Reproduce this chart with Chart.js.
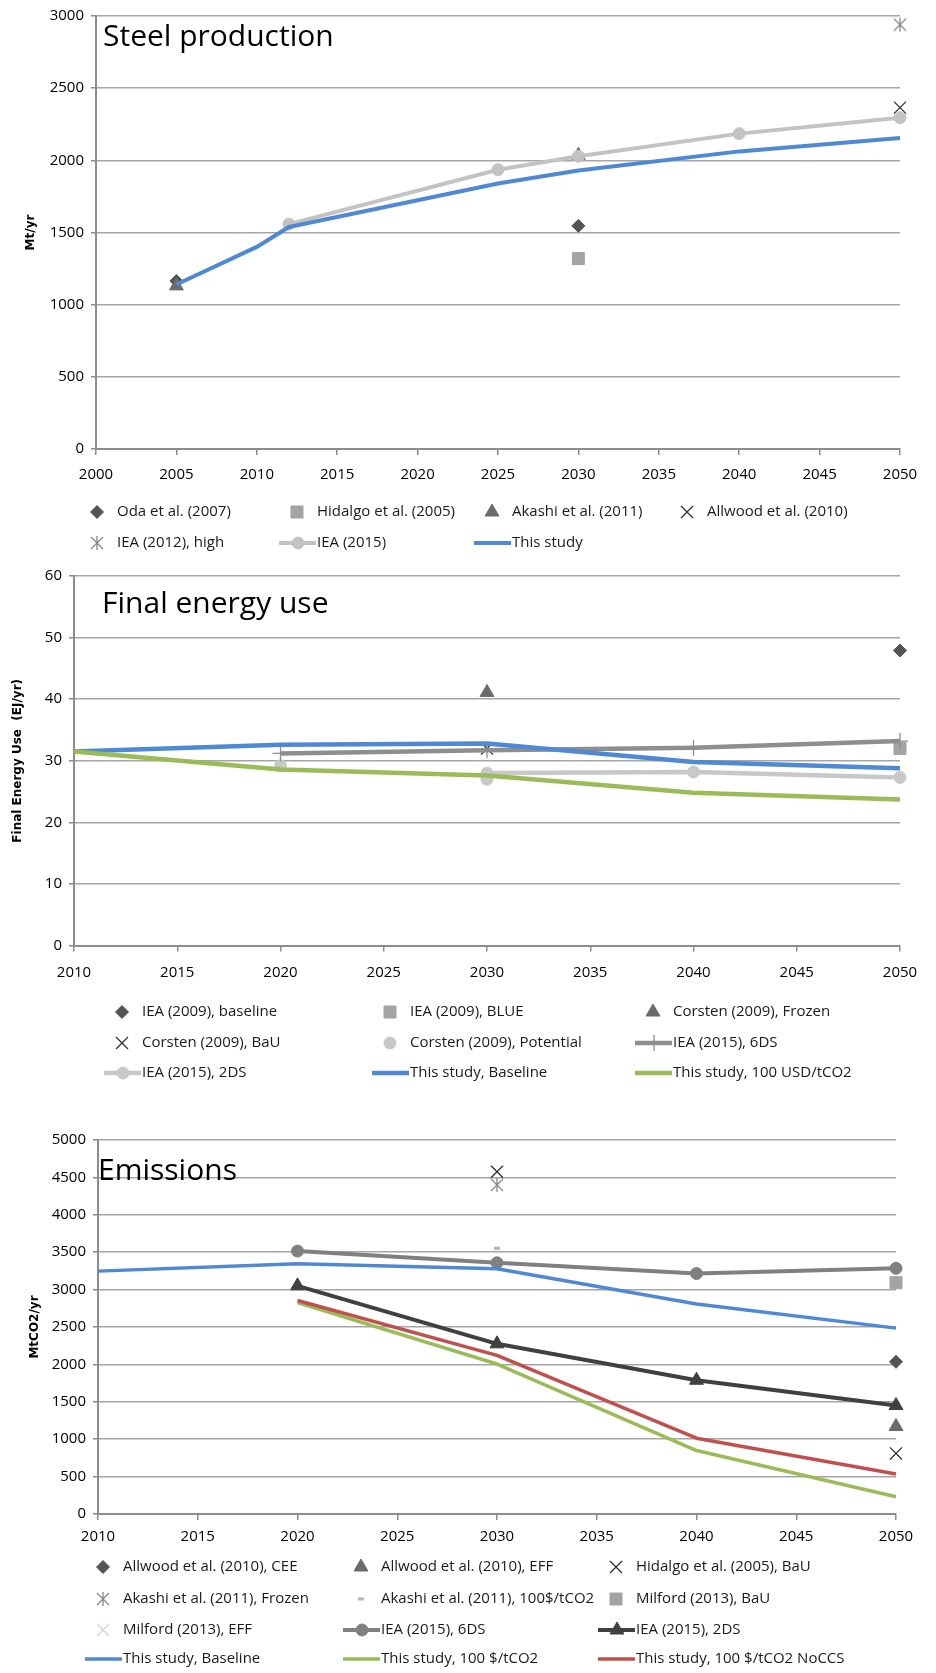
<!DOCTYPE html>
<html>
<head>
<meta charset="utf-8">
<style>
  html, body { margin: 0; padding: 0; background: #fff; }
  body { width: 936px; height: 1673px; position: relative; overflow: hidden; }
  canvas { position: absolute; left: 0; }
</style>
<script src="https://cdn.jsdelivr.net/npm/chart.js@4.4.1/dist/chart.umd.min.js"></script>
</head>
<body>
<canvas id="steel" width="936" height="565" style="top:0px"></canvas>
<canvas id="energy" width="936" height="545" style="top:560px"></canvas>
<canvas id="emissions" width="936" height="568" style="top:1105px"></canvas>
<script>
// ---- Steel production (Mt/yr) ----
const steelYears = [2005, 2010, 2012, 2025, 2030, 2040, 2050];
const steelOda = [1164, null, null, null, 1546, null, null];
const steelHidalgo = [null, null, null, null, 1319, null, null];
const steelAkashi = [1130, null, null, null, 2035, null, null];
const steelAllwood = [null, null, null, null, null, null, 2365];
const steelIea2012 = [null, null, null, null, null, null, 2940];
const steelIea2015 = [null, null, 1558, 1935, 2028, 2185, 2295];
const steelThisStudy = [1140, 1400, 1538, 1840, 1930, 2062, 2155];
const steelXTicks = [2000, 2005, 2010, 2015, 2020, 2025, 2030, 2035, 2040, 2045, 2050];
const steelYTicks = [0, 500, 1000, 1500, 2000, 2500, 3000];

// ---- Final energy use (EJ/yr) ----
const energyYears = [2010, 2020, 2030, 2040, 2050];
const energyIeaBaseline = [null, null, null, null, 47.9];
const energyIeaBlue = [null, null, null, null, 32.0];
const energyCorstenFrozen = [null, null, 41.1, null, null];
const energyCorstenBaU = [null, null, 32.0, null, null];
const energyCorstenPotential = [null, 29.2, 27.0, null, null];
const energyIea6DS = [null, 31.2, 31.7, 32.1, 33.2];
const energyIea2DS = [null, null, 28.0, 28.2, 27.3];
const energyBaseline = [31.5, 32.6, 32.8, 29.8, 28.8];
const energy100 = [31.5, 28.6, 27.6, 24.8, 23.7];
const energyXTicks = [2010, 2015, 2020, 2025, 2030, 2035, 2040, 2045, 2050];
const energyYTicks = [0, 10, 20, 30, 40, 50, 60];

// ---- Emissions (MtCO2/yr) ----
const emisYears = [2010, 2020, 2030, 2040, 2050];
const emisAllwoodCEE = [null, null, null, null, 2035];
const emisAllwoodEFF = [null, null, null, null, 1170];
const emisHidalgoBaU = [null, null, 4576, null, 810];
const emisAkashiFrozen = [null, null, 4400, null, null];
const emisAkashi100 = [null, null, 3552, null, null];
const emisMilfordBaU = [null, null, null, null, 3092];
const emisMilfordEFF = [null, null, null, null, null];
const emisIea6DS = [null, 3515, 3358, 3214, 3285];
const emisIea2DS = [null, 3050, 2275, 1788, 1450];
const emisBaseline = [3247, 3345, 3280, 2808, 2485];
const emis100 = [null, 2825, 2005, 848, 230];
const emis100NoCCS = [null, 2855, 2120, 1013, 535];
const emisXTicks = [2010, 2015, 2020, 2025, 2030, 2035, 2040, 2045, 2050];
const emisYTicks = [0, 500, 1000, 1500, 2000, 2500, 3000, 3500, 4000, 4500, 5000];

Chart.defaults.font.family = '"Open Sans", sans-serif';
Chart.defaults.font.size = 15;
Chart.defaults.color = '#000';

const GRID = '#a6a6a6';
const AXIS = '#8c8c8c';

function pts(years, vals) {
  return years.map((x, i) => ({ x: x, y: vals[i] })).filter(p => p.y !== null);
}

// excel style asterisk: an X with a vertical bar
function asterisk(color) {
  const c = document.createElement('canvas');
  c.width = 18; c.height = 18;
  const g = c.getContext('2d');
  g.strokeStyle = color;
  g.lineWidth = 1.3;
  g.beginPath();
  g.moveTo(3, 3); g.lineTo(15, 15);
  g.moveTo(15, 3); g.lineTo(3, 15);
  g.moveTo(9, 2); g.lineTo(9, 16);
  g.stroke();
  return c;
}

function markerSet(label, years, vals, st) {
  return {
    label: label, data: pts(years, vals), showLine: false, clip: false,
    pointStyle: st.style, pointRadius: st.r,
    pointBackgroundColor: st.fill || 'rgba(0,0,0,0)',
    pointBorderColor: st.stroke || st.fill,
    pointBorderWidth: st.bw !== undefined ? st.bw : 1,
    borderColor: st.stroke || st.fill, backgroundColor: st.fill || 'rgba(0,0,0,0)'
  };
}

function lineSet(label, years, vals, color, width, st) {
  st = st || {};
  return {
    label: label, data: pts(years, vals), showLine: true, clip: false,
    borderColor: color, borderWidth: width, backgroundColor: color,
    borderJoinStyle: 'round', tension: 0,
    pointStyle: st.style || 'circle', pointRadius: st.r || 0,
    pointBackgroundColor: st.fill || color, pointBorderColor: st.stroke || color,
    pointBorderWidth: st.bw !== undefined ? st.bw : 1
  };
}

const gridLegend = {
  id: 'gridLegend',
  afterDraw(chart, args, opts) {
    const ctx = chart.ctx;
    ctx.save();
    ctx.font = '15px "Open Sans", sans-serif';
    ctx.textBaseline = 'middle';
    chart.data.datasets.forEach((ds, i) => {
      const n = opts.cols.length;
      const tx = opts.cols[i % n];
      const ty = opts.rows[Math.floor(i / n)];
      let mx = tx - 20;
      if (ds.showLine) {
        ctx.strokeStyle = ds.borderColor;
        ctx.lineWidth = ds.borderWidth;
        ctx.beginPath();
        ctx.moveTo(tx - 38, ty);
        ctx.lineTo(tx - 1, ty);
        ctx.stroke();
        mx = tx - 19;
      }
      if (ds.pointRadius > 0) {
        ctx.fillStyle = ds.pointBackgroundColor;
        ctx.strokeStyle = ds.pointBorderColor;
        ctx.lineWidth = ds.pointBorderWidth;
        Chart.helpers.drawPoint(ctx, {
          pointStyle: ds.pointStyle, rotation: 0,
          radius: ds.pointRadius, borderWidth: ds.pointBorderWidth
        }, mx, ty);
      }
      ctx.fillStyle = '#1a1a1a';
      ctx.fillText(ds.label, tx, ty);
    });
    ctx.restore();
  }
};

const panelTitle = {
  id: 'panelTitle',
  afterDraw(chart, args, opts) {
    const ctx = chart.ctx;
    ctx.save();
    ctx.font = '30px "Open Sans", sans-serif';
    ctx.fillStyle = '#000';
    ctx.textBaseline = 'alphabetic';
    ctx.fillText(opts.text, opts.x, opts.y);
    ctx.restore();
  }
};

function makeChart(id, cfg) {
  const canvas = document.getElementById(id);
  const H = canvas.height;
  const xh = 40;
  cfg.datasets.forEach((ds, i) => { ds.order = -i; });
  return new Chart(canvas, {
    type: 'line',
    data: { datasets: cfg.datasets },
    options: {
      responsive: false,
      animation: false,
      events: [],
      layout: { padding: { left: 0, top: cfg.top, right: 936 - cfg.right, bottom: H - cfg.bottom - xh } },
      scales: {
        x: {
          type: 'linear',
          min: cfg.xTicks[0], max: cfg.xTicks[cfg.xTicks.length - 1],
          afterBuildTicks: s => { s.ticks = cfg.xTicks.map(v => ({ value: v })); },
          afterFit: s => { s.height = xh; },
          ticks: { callback: v => String(v), padding: cfg.xPad, maxRotation: 0, autoSkip: false },
          grid: { drawOnChartArea: false, drawTicks: true, tickLength: 6, color: AXIS, lineWidth: 1.5 },
          border: { display: true, color: AXIS, width: 2 }
        },
        y: {
          min: cfg.yTicks[0], max: cfg.yTicks[cfg.yTicks.length - 1],
          afterBuildTicks: s => { s.ticks = cfg.yTicks.map(v => ({ value: v })); },
          afterFit: s => { s.width = cfg.left; },
          ticks: { callback: v => String(v), padding: cfg.yPad, autoSkip: false },
          grid: { color: GRID, lineWidth: 1.5, tickLength: 5, tickColor: AXIS },
          border: { display: true, color: AXIS, width: 2 },
          title: {
            display: true, text: cfg.yTitle, color: '#000',
            font: { family: '"DejaVu Sans", sans-serif', weight: 'bold', size: 12 },
            padding: { top: cfg.yTitleX - 7.2, bottom: 0 }
          }
        }
      },
      plugins: {
        legend: { display: false },
        tooltip: { enabled: false },
        gridLegend: { cols: cfg.legendCols, rows: cfg.legendRows },
        panelTitle: { text: cfg.title, x: cfg.titleX, y: cfg.titleY }
      }
    },
    plugins: [gridLegend, panelTitle]
  });
}

const DIAMOND = { style: 'rectRot', r: 6.5, fill: '#545454' };
const SQUARE = { style: 'rect', r: 8.5, fill: '#a3a3a3' };
const TRIANGLE = { style: 'triangle', r: 8, fill: '#6b6b6b' };
const XMARK = { style: 'crossRot', r: 8.5, stroke: '#333333', bw: 1.3 };
const STAR = { style: asterisk('#888888'), r: 8, stroke: '#888888', bw: 1.3 };

makeChart('steel', {
  left: 96, right: 900, top: 15.5, bottom: 449,
  xTicks: steelXTicks, yTicks: steelYTicks, xPad: 11, yPad: 7,
  yTitle: 'Mt/yr', yTitleX: 31,
  title: 'Steel production', titleX: 103, titleY: 46,
  legendCols: [117, 317, 512, 707], legendRows: [512, 543],
  datasets: [
    markerSet('Oda et al. (2007)', steelYears, steelOda, DIAMOND),
    markerSet('Hidalgo et al. (2005)', steelYears, steelHidalgo, SQUARE),
    markerSet('Akashi et al. (2011)', steelYears, steelAkashi, TRIANGLE),
    markerSet('Allwood et al. (2010)', steelYears, steelAllwood, XMARK),
    markerSet('IEA (2012), high', steelYears, steelIea2012, STAR),
    lineSet('IEA (2015)', steelYears, steelIea2015, '#c3c3c3', 4, { style: 'circle', r: 6 }),
    lineSet('This study', steelYears, steelThisStudy, '#4f88d3', 4)
  ]
});

makeChart('energy', {
  left: 74, right: 900, top: 13, bottom: 385.6,
  xTicks: energyXTicks, yTicks: energyYTicks, xPad: 12, yPad: 7,
  yTitle: 'Final Energy Use  (EJ/yr)', yTitleX: 18,
  title: 'Final energy use', titleX: 102, titleY: 52.5,
  legendCols: [142, 410, 673], legendRows: [452, 483, 513],
  datasets: [
    markerSet('IEA (2009), baseline', energyYears, energyIeaBaseline, DIAMOND),
    markerSet('IEA (2009), BLUE', energyYears, energyIeaBlue, SQUARE),
    markerSet('Corsten (2009), Frozen', energyYears, energyCorstenFrozen, TRIANGLE),
    markerSet('Corsten (2009), BaU', energyYears, energyCorstenBaU, XMARK),
    markerSet('Corsten (2009), Potential', energyYears, energyCorstenPotential, { style: 'circle', r: 6, fill: '#c8c8c8' }),
    lineSet('IEA (2015), 6DS', energyYears, energyIea6DS, '#8e8e8e', 4.5, { style: 'cross', r: 8, fill: '#8e8e8e', stroke: '#8e8e8e', bw: 1.3 }),
    lineSet('IEA (2015), 2DS', energyYears, energyIea2DS, '#c8c8c8', 4.5, { style: 'circle', r: 6 }),
    lineSet('This study, Baseline', energyYears, energyBaseline, '#4f88d3', 4.5),
    lineSet('This study, 100 USD/tCO2', energyYears, energy100, '#9bbb59', 4.5)
  ]
});

makeChart('emissions', {
  left: 98, right: 896, top: 35, bottom: 409,
  xTicks: emisXTicks, yTicks: emisYTicks, xPad: 8, yPad: 7,
  yTitle: 'MtCO2/yr', yTitleX: 35,
  title: 'Emissions', titleX: 98, titleY: 75,
  legendCols: [123, 381, 636], legendRows: [462, 494, 525, 554],
  datasets: [
    markerSet('Allwood et al. (2010), CEE', emisYears, emisAllwoodCEE, DIAMOND),
    markerSet('Allwood et al. (2010), EFF', emisYears, emisAllwoodEFF, TRIANGLE),
    markerSet('Hidalgo et al. (2005), BaU', emisYears, emisHidalgoBaU, XMARK),
    markerSet('Akashi et al. (2011), Frozen', emisYears, emisAkashiFrozen, STAR),
    markerSet('Akashi et al. (2011), 100$/tCO2', emisYears, emisAkashi100, { style: 'line', r: 3, stroke: '#b5b5b5', bw: 3 }),
    markerSet('Milford (2013), BaU', emisYears, emisMilfordBaU, SQUARE),
    markerSet('Milford (2013), EFF', emisYears, emisMilfordEFF, { style: 'crossRot', r: 8.5, stroke: '#d4d4d4', bw: 1.3 }),
    lineSet('IEA (2015), 6DS', emisYears, emisIea6DS, '#808080', 4, { style: 'circle', r: 6 }),
    lineSet('IEA (2015), 2DS', emisYears, emisIea2DS, '#404040', 4, { style: 'triangle', r: 8 }),
    lineSet('This study, Baseline', emisYears, emisBaseline, '#4f88d3', 3.5),
    lineSet('This study, 100 $/tCO2', emisYears, emis100, '#9bbb59', 3.5),
    lineSet('This study, 100 $/tCO2 NoCCS', emisYears, emis100NoCCS, '#c0504d', 3.5)
  ]
});
</script>
</body>
</html>
